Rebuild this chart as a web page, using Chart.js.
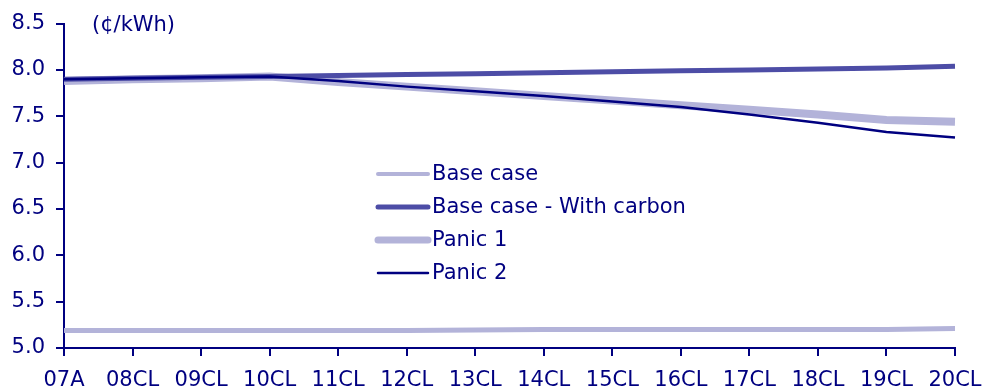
<!DOCTYPE html>
<html>
<head>
<meta charset="utf-8">
<script src="https://cdn.jsdelivr.net/npm/chart.js@4"></script>
<style>
  html, body { margin: 0; padding: 0; background: #fff; }
  #wrap { width: 996px; height: 390px; }
</style>
</head>
<body>
<div id="wrap"><canvas id="priceChart" width="996" height="390"></canvas></div>
<script>
// Years on the horizontal axis
const years = ["07A", "08CL", "09CL", "10CL", "11CL", "12CL", "13CL", "14CL", "15CL", "16CL", "17CL", "18CL", "19CL", "20CL"];

// Price series, ¢/kWh
const baseCase = [5.19, 5.19, 5.19, 5.19, 5.19, 5.19, 5.195, 5.2, 5.2, 5.2, 5.2, 5.2, 5.2, 5.21];
const baseCaseCarbon = [7.90, 7.91, 7.92, 7.93, 7.94, 7.95, 7.96, 7.97, 7.98, 7.99, 8.00, 8.01, 8.02, 8.04];
const panic1 = [7.88, 7.90, 7.91, 7.93, 7.87, 7.82, 7.77, 7.72, 7.67, 7.62, 7.57, 7.52, 7.46, 7.44];
const panic2 = [7.90, 7.91, 7.92, 7.93, 7.88, 7.82, 7.77, 7.72, 7.66, 7.60, 7.52, 7.43, 7.33, 7.27];

const yTicks = [5.0, 5.5, 6.0, 6.5, 7.0, 7.5, 8.0, 8.5];

const NAVY = "#000080";
const FONT = "'DejaVu Sans', Verdana, sans-serif";
const FONT_SIZE = 21;

// legend drawn inside the plot area, plus the unit label at the top
const insideLegend = {
  id: "insideLegend",
  afterDraw(chart) {
    const ctx = chart.ctx;
    const area = chart.chartArea;
    ctx.save();
    ctx.font = FONT_SIZE + "px " + FONT;
    ctx.fillStyle = NAVY;
    ctx.textBaseline = "middle";
    ctx.fillText("(¢/kWh)", area.left + 28, area.top + 2);

    const x0 = 378, x1 = 428, yStart = 174, step = 33;
    const legendWidths = [4, 5, 7, 2.5];
    chart.data.datasets.forEach((ds, i) => {
      const y = yStart + i * step;
      ctx.beginPath();
      ctx.lineCap = "round";
      ctx.strokeStyle = ds.borderColor;
      ctx.lineWidth = legendWidths[i];
      ctx.moveTo(x0, y);
      ctx.lineTo(x1, y);
      ctx.stroke();
      ctx.fillStyle = NAVY;
      ctx.fillText(ds.label, 432, y + 1);
    });
    ctx.restore();
  }
};

new Chart(document.getElementById("priceChart").getContext("2d"), {
  type: "line",
  data: {
    labels: years,
    datasets: [
      { label: "Base case", data: baseCase, borderColor: "#b3b3d9", borderWidth: 5, order: 3 },
      { label: "Base case - With carbon", data: baseCaseCarbon, borderColor: "#4d4da6", borderWidth: 5, order: 1 },
      { label: "Panic 1", data: panic1, borderColor: "#b3b3d9", borderWidth: 8, order: 2 },
      { label: "Panic 2", data: panic2, borderColor: NAVY, borderWidth: 2.5, order: 0 }
    ]
  },
  options: {
    responsive: false,
    animation: false,
    layout: { padding: { top: 19, right: 41, left: 0, bottom: 0 } },
    elements: { point: { radius: 0 }, line: { tension: 0 } },
    plugins: { legend: { display: false }, tooltip: { enabled: false } },
    scales: {
      x: {
        offset: false,
        grid: { drawOnChartArea: false, color: NAVY, tickLength: 8, lineWidth: 2 },
        border: { color: NAVY, width: 2 },
        ticks: { color: NAVY, font: { family: FONT, size: FONT_SIZE }, maxRotation: 0, autoSkip: false, padding: 12 },
        afterFit(scale) { scale.height = 42; }
      },
      y: {
        min: 5.0,
        max: 8.5,
        afterBuildTicks(scale) { scale.ticks = yTicks.map(v => ({ value: v })); },
        grid: { drawOnChartArea: false, color: NAVY, tickLength: 8, lineWidth: 2 },
        border: { color: NAVY, width: 2 },
        ticks: { color: NAVY, font: { family: FONT, size: FONT_SIZE }, padding: 11, callback: v => v.toFixed(1) },
        afterFit(scale) { scale.width = 64; }
      }
    }
  },
  plugins: [insideLegend]
});
</script>
</body>
</html>
